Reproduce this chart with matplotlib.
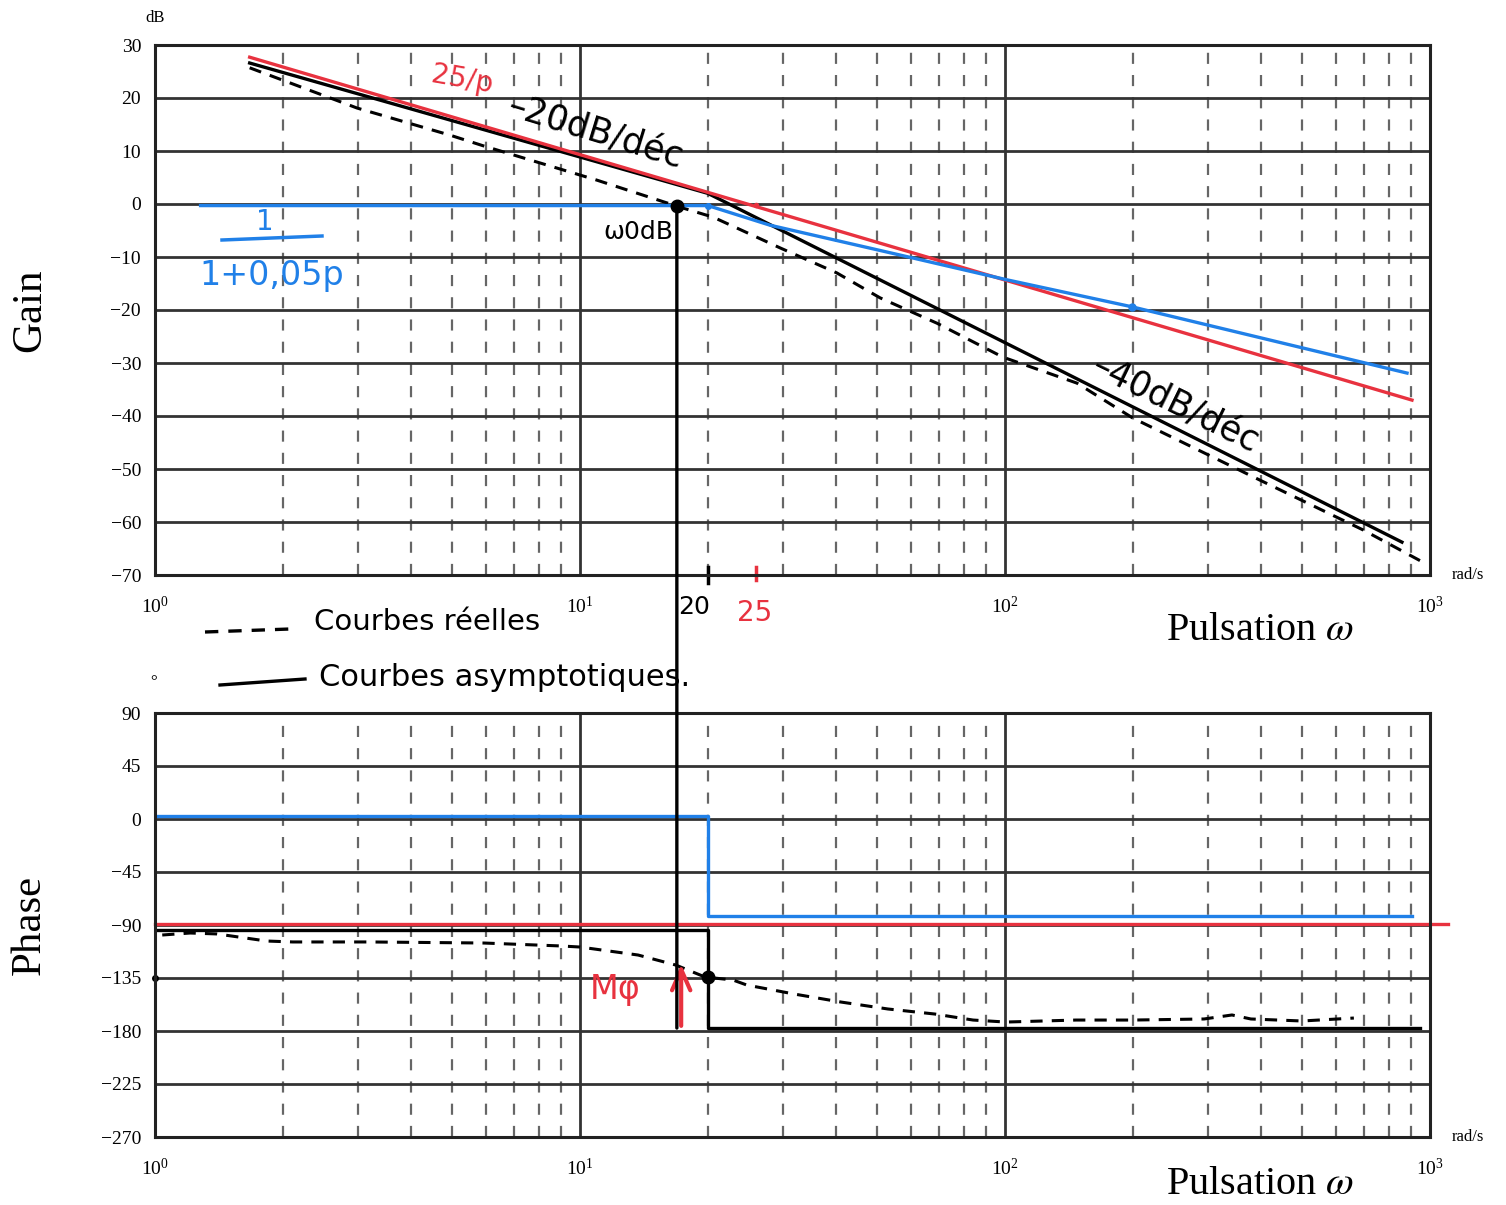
import matplotlib
matplotlib.use("Agg")
import matplotlib.pyplot as plt
from matplotlib.lines import Line2D
from matplotlib.patches import ConnectionPatch

plt.rcParams['font.family'] = ['Liberation Serif', 'DejaVu Serif']
plt.rcParams['mathtext.fontset'] = 'stix'

# --- data ---
# gain (dB)
red_gain_w = [1.67, 907]
red_gain_db = [27.7, -37.0]

asym_gain_w = [1.67, 20.0, 859]
asym_gain_db = [26.6, 2.0, -63.8]

real_gain_w = [1.67, 2.99, 4.94, 5.91, 10.96, 17.2, 20.6, 29.6, 40.2, 50.8,
               69.2, 98.9, 147.7, 200, 398, 696, 958]
real_gain_db = [25.7, 18.1, 13.0, 11.0, 4.5, -0.6, -2.5, -8.3, -13.0, -17.7,
                -22.5, -28.9, -33.8, -40.4, -52.1, -61.5, -67.5]

blue_gain_w = [1.28, 20.0, 28.0, 60.8, 101, 199, 883]
blue_gain_db = [-0.3, -0.3, -4.0, -10.2, -14.3, -19.4, -31.9]

# phase (deg)
blue_phase_w = [1, 20, 20, 907]
blue_phase_deg = [2.5, 2.5, -82.4, -82.4]

red_phase_w = [1, 1100]
red_phase_deg = [-89, -89]

asym_phase_w = [1, 20, 20, 947]
asym_phase_deg = [-94, -94, -177.5, -177.5]

real_phase_w = [1.04, 1.21, 1.40, 1.83, 2.11, 3.2, 5.94, 9.02, 10, 13.7, 16.8,
                19.7, 22.9, 24.7, 31.9, 41.1, 53, 68.4, 84.1, 100.5, 146.9,
                200, 294, 342, 379, 500, 662]
real_phase_deg = [-98.5, -96.8, -97.6, -103.6, -104.4, -104.4, -105.3, -107.8,
                  -108.7, -115.5, -124.0, -134.2, -136.7, -141.0, -148.6,
                  -155.4, -161.3, -165.6, -170.7, -172.4, -170.7, -170.7,
                  -169.8, -166.4, -169.8, -171.5, -169.0]

w_0db = 16.9
gain_0db = -0.3
phase_at_0db = -177.5
mphi_w = 17.3
mphi_from, mphi_to = -178, -121

gain_ticks = [30, 20, 10, 0, -10, -20, -30, -40, -50, -60, -70]
phase_ticks = [90, 45, 0, -45, -90, -135, -180, -225, -270]

RED = '#e8323f'
BLUE = '#2080e8'
W, H = 1506, 1205


def fx(x, y):
    # pixel position -> figure fraction
    return x / W, 1 - y / H


fig = plt.figure(figsize=(W / 100, H / 100), dpi=100)
ax1 = fig.add_axes([155 / W, 1 - 575 / H, 1275 / W, 530 / H])
ax2 = fig.add_axes([155 / W, 1 - 1137 / H, 1275 / W, 424 / H])

for ax, ticks in ((ax1, gain_ticks), (ax2, phase_ticks)):
    ax.set_xscale('log')
    ax.set_xlim(1, 1000)
    ax.set_ylim(min(ticks), max(ticks))
    ax.set_yticks(ticks)
    ax.grid(which='major', color='#333333', lw=2)
    ax.grid(which='minor', axis='x', color='#666666', lw=1.6, ls=(0, (5, 5)))
    ax.tick_params(which='both', length=0, labelsize=14)
    ax.tick_params(axis='y', pad=10)
    ax.tick_params(axis='x', pad=15)
    for s in ax.spines.values():
        s.set_linewidth(2.2)
        s.set_color('#222222')
    ax.set_axisbelow(True)

# gain curves
ax1.plot(real_gain_w, real_gain_db, color='black', lw=2.2, ls=(0, (4, 3)))
ax1.plot(asym_gain_w, asym_gain_db, color='black', lw=2.4)
ax1.plot(red_gain_w, red_gain_db, color=RED, lw=2.4)
ax1.plot(blue_gain_w, blue_gain_db, color=BLUE, lw=2.4)
ax1.plot([w_0db], [gain_0db], 'o', color='black', ms=9)
ax1.plot([20], [gain_0db], 'o', color=BLUE, ms=4)
ax1.plot([26], [-0.2], 'o', color=RED, ms=3)
ax1.plot([199], [-19.4], 'o', color=BLUE, ms=5)

# phase curves
ax2.plot(real_phase_w, real_phase_deg, color='black', lw=2.2, ls=(0, (4, 3)))
ax2.plot(asym_phase_w, asym_phase_deg, color='black', lw=2.4)
ax2.plot(red_phase_w, red_phase_deg, color=RED, lw=2.4, clip_on=False)
ax2.plot(blue_phase_w, blue_phase_deg, color=BLUE, lw=2.4)
ax2.plot([20], [-134.2], 'o', color='black', ms=9)
ax2.plot([1], [-135], 'o', color='black', ms=4, clip_on=False)

# vertical line at the 0 dB crossover, spanning both plots
con = ConnectionPatch(xyA=(w_0db, gain_0db), coordsA=ax1.transData,
                      xyB=(w_0db, phase_at_0db), coordsB=ax2.transData,
                      color='black', lw=2.4)
fig.add_artist(con)

ax2.annotate('', xy=(mphi_w, mphi_to), xytext=(mphi_w, mphi_from),
             arrowprops=dict(arrowstyle='->,head_length=0.5,head_width=0.22',
                             color=RED, lw=3, mutation_scale=30))

# marks at 20 and 25 under the gain axis
ax1.plot([20, 20], [-68.5, -71.5], color='black', lw=2.5, clip_on=False)
ax1.plot([26, 26], [-68.5, -71.0], color=RED, lw=2.5, clip_on=False)

# axis texts
fig.text(*fx(155, 18), 'dB', fontsize=12, ha='center', va='center')
fig.text(*fx(154, 682), '°', fontsize=12, ha='center', va='center')
fig.text(*fx(1468, 575), 'rad/s', fontsize=12, ha='center', va='center')
fig.text(*fx(1468, 1137), 'rad/s', fontsize=12, ha='center', va='center')
fig.text(*fx(30, 310), 'Gain', fontsize=31, rotation=90, ha='center', va='center')
fig.text(*fx(30, 925), 'Phase', fontsize=31, rotation=90, ha='center', va='center')
fig.text(*fx(1260, 630), 'Pulsation $\\omega$', fontsize=29, ha='center', va='center')
fig.text(*fx(1260, 1185), 'Pulsation $\\omega$', fontsize=29, ha='center', va='center')

# hand-written notes
hand = ['DejaVu Sans']
fig.text(*fx(462, 80), '25/p', color=RED, fontsize=20, family=hand,
         ha='center', va='center', rotation=-10)
fig.text(*fx(595, 133), '–20dB/déc', color='black', fontsize=25, family=hand,
         ha='center', va='center', rotation=-17)
fig.text(*fx(1175, 405), '–40dB/déc', color='black', fontsize=25, family=hand,
         ha='center', va='center', rotation=-26)
fig.text(*fx(638, 232), 'ω0dB', color='black', fontsize=18, family=hand,
         ha='center', va='center')
fig.text(*fx(265, 222), '1', color=BLUE, fontsize=20, family=hand,
         ha='center', va='center')
fig.add_artist(Line2D([222 / W, 322 / W], [1 - 240 / H, 1 - 236 / H],
                      color=BLUE, lw=2.5))
fig.text(*fx(272, 275), '1+0,05p', color=BLUE, fontsize=24, family=hand,
         ha='center', va='center')
fig.text(*fx(694, 607), '20', color='black', fontsize=18, family=hand,
         ha='center', va='center')
fig.text(*fx(755, 613), '25', color=RED, fontsize=20, family=hand,
         ha='center', va='center')
fig.text(*fx(615, 990), 'Mφ', color=RED, fontsize=24, family=hand,
         ha='center', va='center')

# hand-drawn legend
fig.add_artist(Line2D([205 / W, 290 / W], [1 - 632 / H, 1 - 629 / H],
                      color='black', lw=2.4, ls=(0, (4, 3))))
fig.text(*fx(314, 622), 'Courbes réelles', fontsize=21, family=hand,
         ha='left', va='center')
fig.add_artist(Line2D([220 / W, 305 / W], [1 - 685 / H, 1 - 679 / H],
                      color='black', lw=2.4))
fig.text(*fx(319, 678), 'Courbes asymptotiques.', fontsize=22, family=hand,
         ha='left', va='center')

fig.savefig('out.png', dpi=100)
